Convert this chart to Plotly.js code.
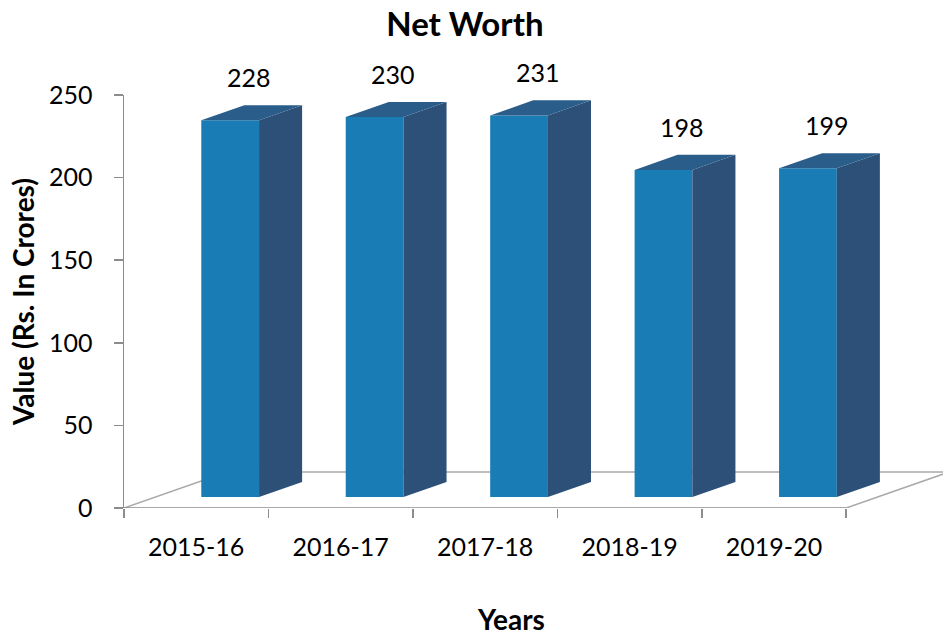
<!DOCTYPE html>
<html>
<head>
<meta charset="utf-8">
<script src="https://cdn.plot.ly/plotly-3.0.1.min.js"></script>
<style>html,body{margin:0;padding:0;background:#fff;}#chart{width:943px;height:638px;}</style>
</head>
<body>
<div id="chart"></div>
<script>
// ---- data ----
const categories = ['2015-16', '2016-17', '2017-18', '2018-19', '2019-20'];
const netWorth = [228, 230, 231, 198, 199];
const yTickValues = [0, 50, 100, 150, 200, 250];

// ---- 3D look (in axis units) ----
const FACE_OFFSET = 0.035;   // front face left edge relative to category centre
const FACE_WIDTH = 0.40;
const BASE = 6.66;           // front face baseline lift
const DEPTH_X = 0.298, DEPTH_Y = 9.1;   // bar depth
const FLOOR_DX = 0.713, FLOOR_DY = 21.8; // floor depth
const LABEL_DX = 0.365, LABEL_SHIFT = 28;

const FRONT = '#1a7cb5', SIDE = '#2c5077', TOP = '#2b5d8a';
const FONT = 'Lato, "Open Sans", sans-serif';

const idx = categories.map((c, i) => i);
const boundaries = categories.map((c, i) => i - 0.5).concat([categories.length - 0.5]);

// side and top faces
const sx = [], sy = [], tx = [], ty = [];
netWorth.forEach((v, i) => {
  const xl = i + FACE_OFFSET, xr = xl + FACE_WIDTH;
  const yb = BASE, yt = BASE + v;
  sx.push(xr, xr + DEPTH_X, xr + DEPTH_X, xr, xr, null);
  sy.push(yb, yb + DEPTH_Y, yt + DEPTH_Y, yt, yb, null);
  tx.push(xl, xr, xr + DEPTH_X, xl + DEPTH_X, xl, null);
  ty.push(yt, yt, yt + DEPTH_Y, yt + DEPTH_Y, yt, null);
});

const last = categories.length - 0.5;
const floorPath = `M -0.5,0 L ${-0.5 + FLOOR_DX},${FLOOR_DY} L ${last + FLOOR_DX},${FLOOR_DY} L ${last},0`;

const traces = [
  {
    type: 'bar', x: idx, y: netWorth, base: BASE, width: FACE_WIDTH, offset: FACE_OFFSET,
    marker: {color: FRONT, line: {width: 0}}, hoverinfo: 'skip', showlegend: false
  },
  {
    type: 'scatter', mode: 'lines', x: sx, y: sy, fill: 'toself', fillcolor: SIDE,
    line: {width: 0, color: SIDE}, hoverinfo: 'skip', showlegend: false
  },
  {
    type: 'scatter', mode: 'lines', x: tx, y: ty, fill: 'toself', fillcolor: TOP,
    line: {width: 0, color: TOP}, hoverinfo: 'skip', showlegend: false
  }
];

// data labels above each bar's back-top edge
const valueLabels = netWorth.map((v, i) => ({
  text: String(v), xref: 'x', yref: 'y', x: i + LABEL_DX, y: v + BASE + DEPTH_Y,
  yshift: LABEL_SHIFT, xanchor: 'center', yanchor: 'middle', showarrow: false,
  font: {family: FONT, size: 25, color: '#000'}
}));

const layout = {
  width: 943, height: 638,
  margin: {l: 124, r: 0, t: 95, b: 130},
  paper_bgcolor: '#fff', plot_bgcolor: '#fff',
  showlegend: false,
  title: {
    text: 'Net Worth', xref: 'container', x: 0.493, xanchor: 'center',
    yref: 'container', y: 0.962, yanchor: 'middle',
    font: {family: FONT, size: 33, weight: 'bold', color: '#000'}
  },
  xaxis: {
    type: 'linear', range: [-0.5, 5.17], fixedrange: true,
    showline: false, showgrid: false, zeroline: false,
    tickmode: 'array', tickvals: idx, ticktext: categories, ticks: '',
    tickfont: {family: FONT, size: 25, color: '#000'}, ticklabelstandoff: 22,
    minor: {tickmode: 'array', tickvals: boundaries, ticks: 'outside', ticklen: 9, tickcolor: '#8c8c8c', tickwidth: 1.5, showgrid: false}
  },
  yaxis: {
    range: [0, 250], fixedrange: true,
    showline: true, linecolor: '#8c8c8c', linewidth: 1.5,
    showgrid: false, zeroline: false,
    tickmode: 'array', tickvals: yTickValues, ticks: 'outside', ticklen: 9,
    tickcolor: '#8c8c8c', tickwidth: 1.5,
    tickfont: {family: FONT, size: 25, color: '#000'}, ticklabelstandoff: 16,
    title: {text: 'Value (Rs. In Crores)', standoff: 6, font: {family: FONT, size: 28, weight: 'bold', color: '#000'}}
  },
  shapes: [
    {type: 'path', xref: 'x', yref: 'y', path: floorPath, layer: 'below', line: {color: '#a9a9a9', width: 1.5}},
    {type: 'line', xref: 'x', yref: 'y', x0: -0.5, x1: last, y0: 0, y1: 0, layer: 'below', line: {color: '#8c8c8c', width: 1.5}}
  ],
  annotations: valueLabels.concat([
    {text: 'Years', xref: 'paper', yref: 'paper', x: (511 - 124) / 819, y: -111 / 413,
     xanchor: 'center', yanchor: 'middle', showarrow: false,
     font: {family: FONT, size: 28, weight: 'bold', color: '#000'}}
  ])
};

Plotly.newPlot('chart', traces, layout, {displayModeBar: false, staticPlot: true});
</script>
</body>
</html>
